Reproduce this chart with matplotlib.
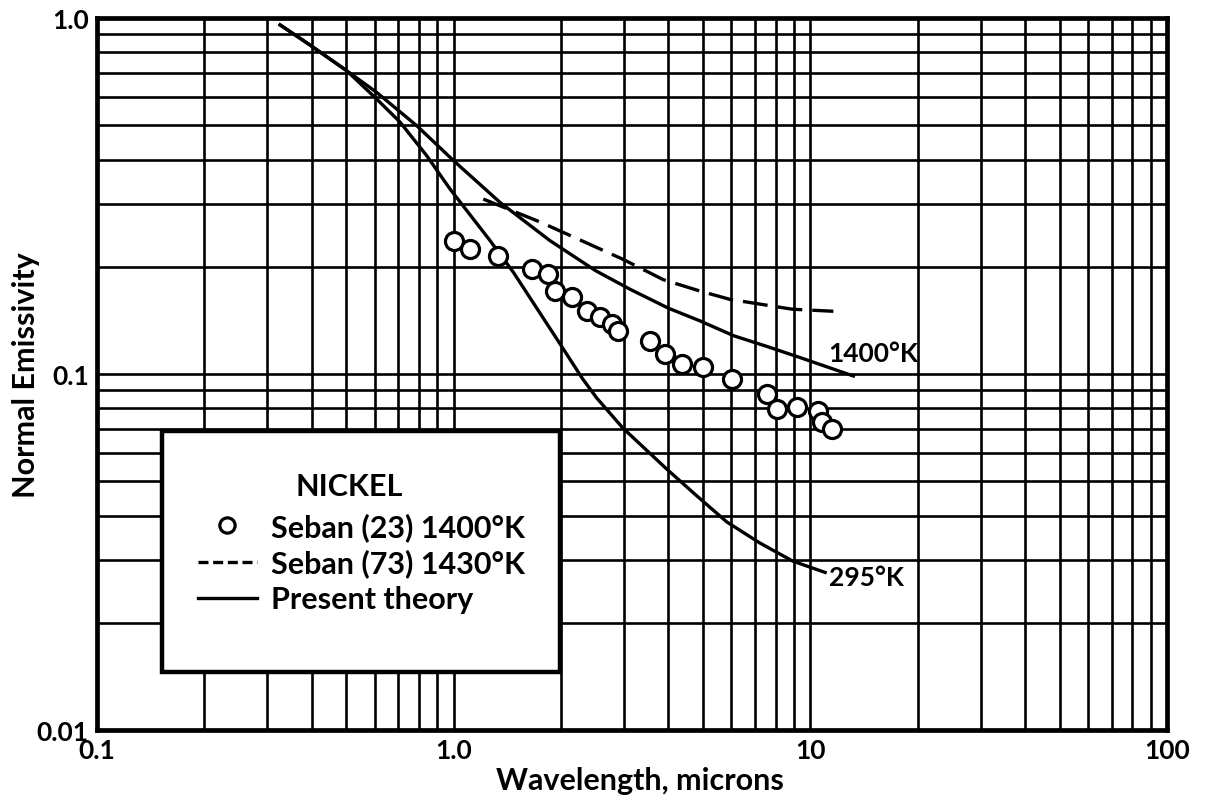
import matplotlib
matplotlib.use('Agg')
import matplotlib.pyplot as plt
from matplotlib.lines import Line2D
from matplotlib.patches import Rectangle
from matplotlib.ticker import LogLocator, NullFormatter

plt.rcParams['font.family'] = ['Lato', 'DejaVu Sans']
plt.rcParams['font.weight'] = 'bold'
plt.rcParams['axes.labelweight'] = 'bold'

# present theory, 1400 K
theory_1400_x = [0.326, 0.395, 0.501, 0.608, 0.788, 1.0, 1.35, 1.86, 2.5, 3.12,
                 4.0, 4.9, 6.1, 7.55, 9.4, 13.2]
theory_1400_y = [0.956, 0.84, 0.711, 0.618, 0.498, 0.397, 0.303, 0.237, 0.195, 0.173,
                 0.153, 0.141, 0.128, 0.1195, 0.111, 0.0987]

# present theory, 295 K
theory_295_x = [0.326, 0.395, 0.501, 0.608, 0.707, 0.839, 0.976, 1.26, 1.47, 1.95,
                2.30, 2.52, 2.98, 3.96, 4.81, 5.83, 7.22, 8.93, 11.0]
theory_295_y = [0.956, 0.84, 0.711, 0.592, 0.51, 0.411, 0.331, 0.238, 0.193, 0.125,
                0.0968, 0.0855, 0.0705, 0.054, 0.0454, 0.0384, 0.0335, 0.0298, 0.0277]

# Seban (73), 1430 K
seban73_x = [1.21, 1.75, 2.98, 3.87, 4.9, 5.95, 8.9, 11.6]
seban73_y = [0.310, 0.267, 0.210, 0.184, 0.171, 0.162, 0.152, 0.150]

# Seban (23), 1400 K
seban23_x = [1.0, 1.11, 1.33, 1.66, 1.84, 1.92, 2.15, 2.36, 2.57, 2.78, 2.89,
             3.55, 3.91, 4.36, 5.0, 6.03, 7.55, 8.05, 9.17, 10.5, 10.8, 11.5]
seban23_y = [0.236, 0.224, 0.2145, 0.197, 0.191, 0.171, 0.164, 0.150, 0.1445, 0.138, 0.132,
             0.124, 0.114, 0.1067, 0.1046, 0.0968, 0.0879, 0.0797, 0.0808, 0.0787, 0.0733, 0.070]

x_ticks = [0.1, 1.0, 10, 100]
x_tick_labels = ['0.1', '1.0', '10', '100']
y_ticks = [0.01, 0.1, 1.0]
y_tick_labels = ['0.01', '0.1', '1.0']

fig = plt.figure(figsize=(12.07, 8.03), dpi=100)
ax = fig.add_axes([0.0804, 0.0897, 0.8865, 0.8867])
ax.set_xscale('log')
ax.set_yscale('log')
ax.set_xlim(0.1, 100)
ax.set_ylim(0.01, 1.0)

# chart-paper grid
ax.xaxis.set_minor_locator(LogLocator(base=10, subs=range(2, 10)))
ax.yaxis.set_minor_locator(LogLocator(base=10, subs=range(2, 10)))
ax.xaxis.set_minor_formatter(NullFormatter())
ax.yaxis.set_minor_formatter(NullFormatter())
ax.grid(which='both', color='black', lw=1.9)
ax.set_axisbelow(True)
for s in ax.spines.values():
    s.set_linewidth(3.4)

ax.set_xticks(x_ticks, labels=x_tick_labels)
ax.set_yticks(y_ticks, labels=y_tick_labels)
ax.tick_params(which='both', length=0)
ax.tick_params(axis='x', pad=6, labelsize=19)
ax.tick_params(axis='y', pad=6, labelsize=19)

ax.plot(theory_1400_x, theory_1400_y, color='black', lw=2.4, zorder=3)
ax.plot(theory_295_x, theory_295_y, color='black', lw=2.4, zorder=3)
ax.plot(seban73_x, seban73_y, color='black', lw=2.4, dashes=(7.5, 3), zorder=3)
ax.plot(seban23_x, seban23_y, ls='none', marker='o', ms=13, mfc='white',
        mec='black', mew=2.3, zorder=4)

ax.text(11.2, 0.1144, '1400°K', fontsize=19, ha='left', va='center')
ax.text(11.3, 0.0269, '295°K', fontsize=19, ha='left', va='center')

ax.set_xlabel('Wavelength, microns', fontsize=22)
ax.xaxis.set_label_coords(0.5075, -0.05)
ax.set_ylabel('Normal Emissivity', fontsize=22)
ax.yaxis.set_label_coords(-0.053, 0.5)

# legend box
box = Rectangle((0.0605, 0.0815), 0.3722, 0.3385, transform=ax.transAxes,
                facecolor='white', edgecolor='black', lw=3.2, zorder=5)
ax.add_patch(box)
ax.text(0.2355, 0.3427, 'NICKEL', transform=ax.transAxes, fontsize=22,
        ha='center', va='center', zorder=6)
handles = [
    Line2D([], [], ls='none', marker='o', ms=11, mfc='white', mec='black', mew=2.3),
    Line2D([], [], color='black', lw=2.4, dashes=(3, 1.4)),
    Line2D([], [], color='black', lw=2.4),
]
labels = ['Seban (23) 1400°K', 'Seban (73) 1430°K', 'Present theory']
leg = ax.legend(handles, labels, loc='upper left',
                bbox_to_anchor=(0.094, 0.306), frameon=False, fontsize=22,
                handlelength=1.93, handletextpad=0.46,
                labelspacing=0.25, borderpad=0, borderaxespad=0)
leg.set_zorder(6)

fig.savefig('out.png', dpi=100)
